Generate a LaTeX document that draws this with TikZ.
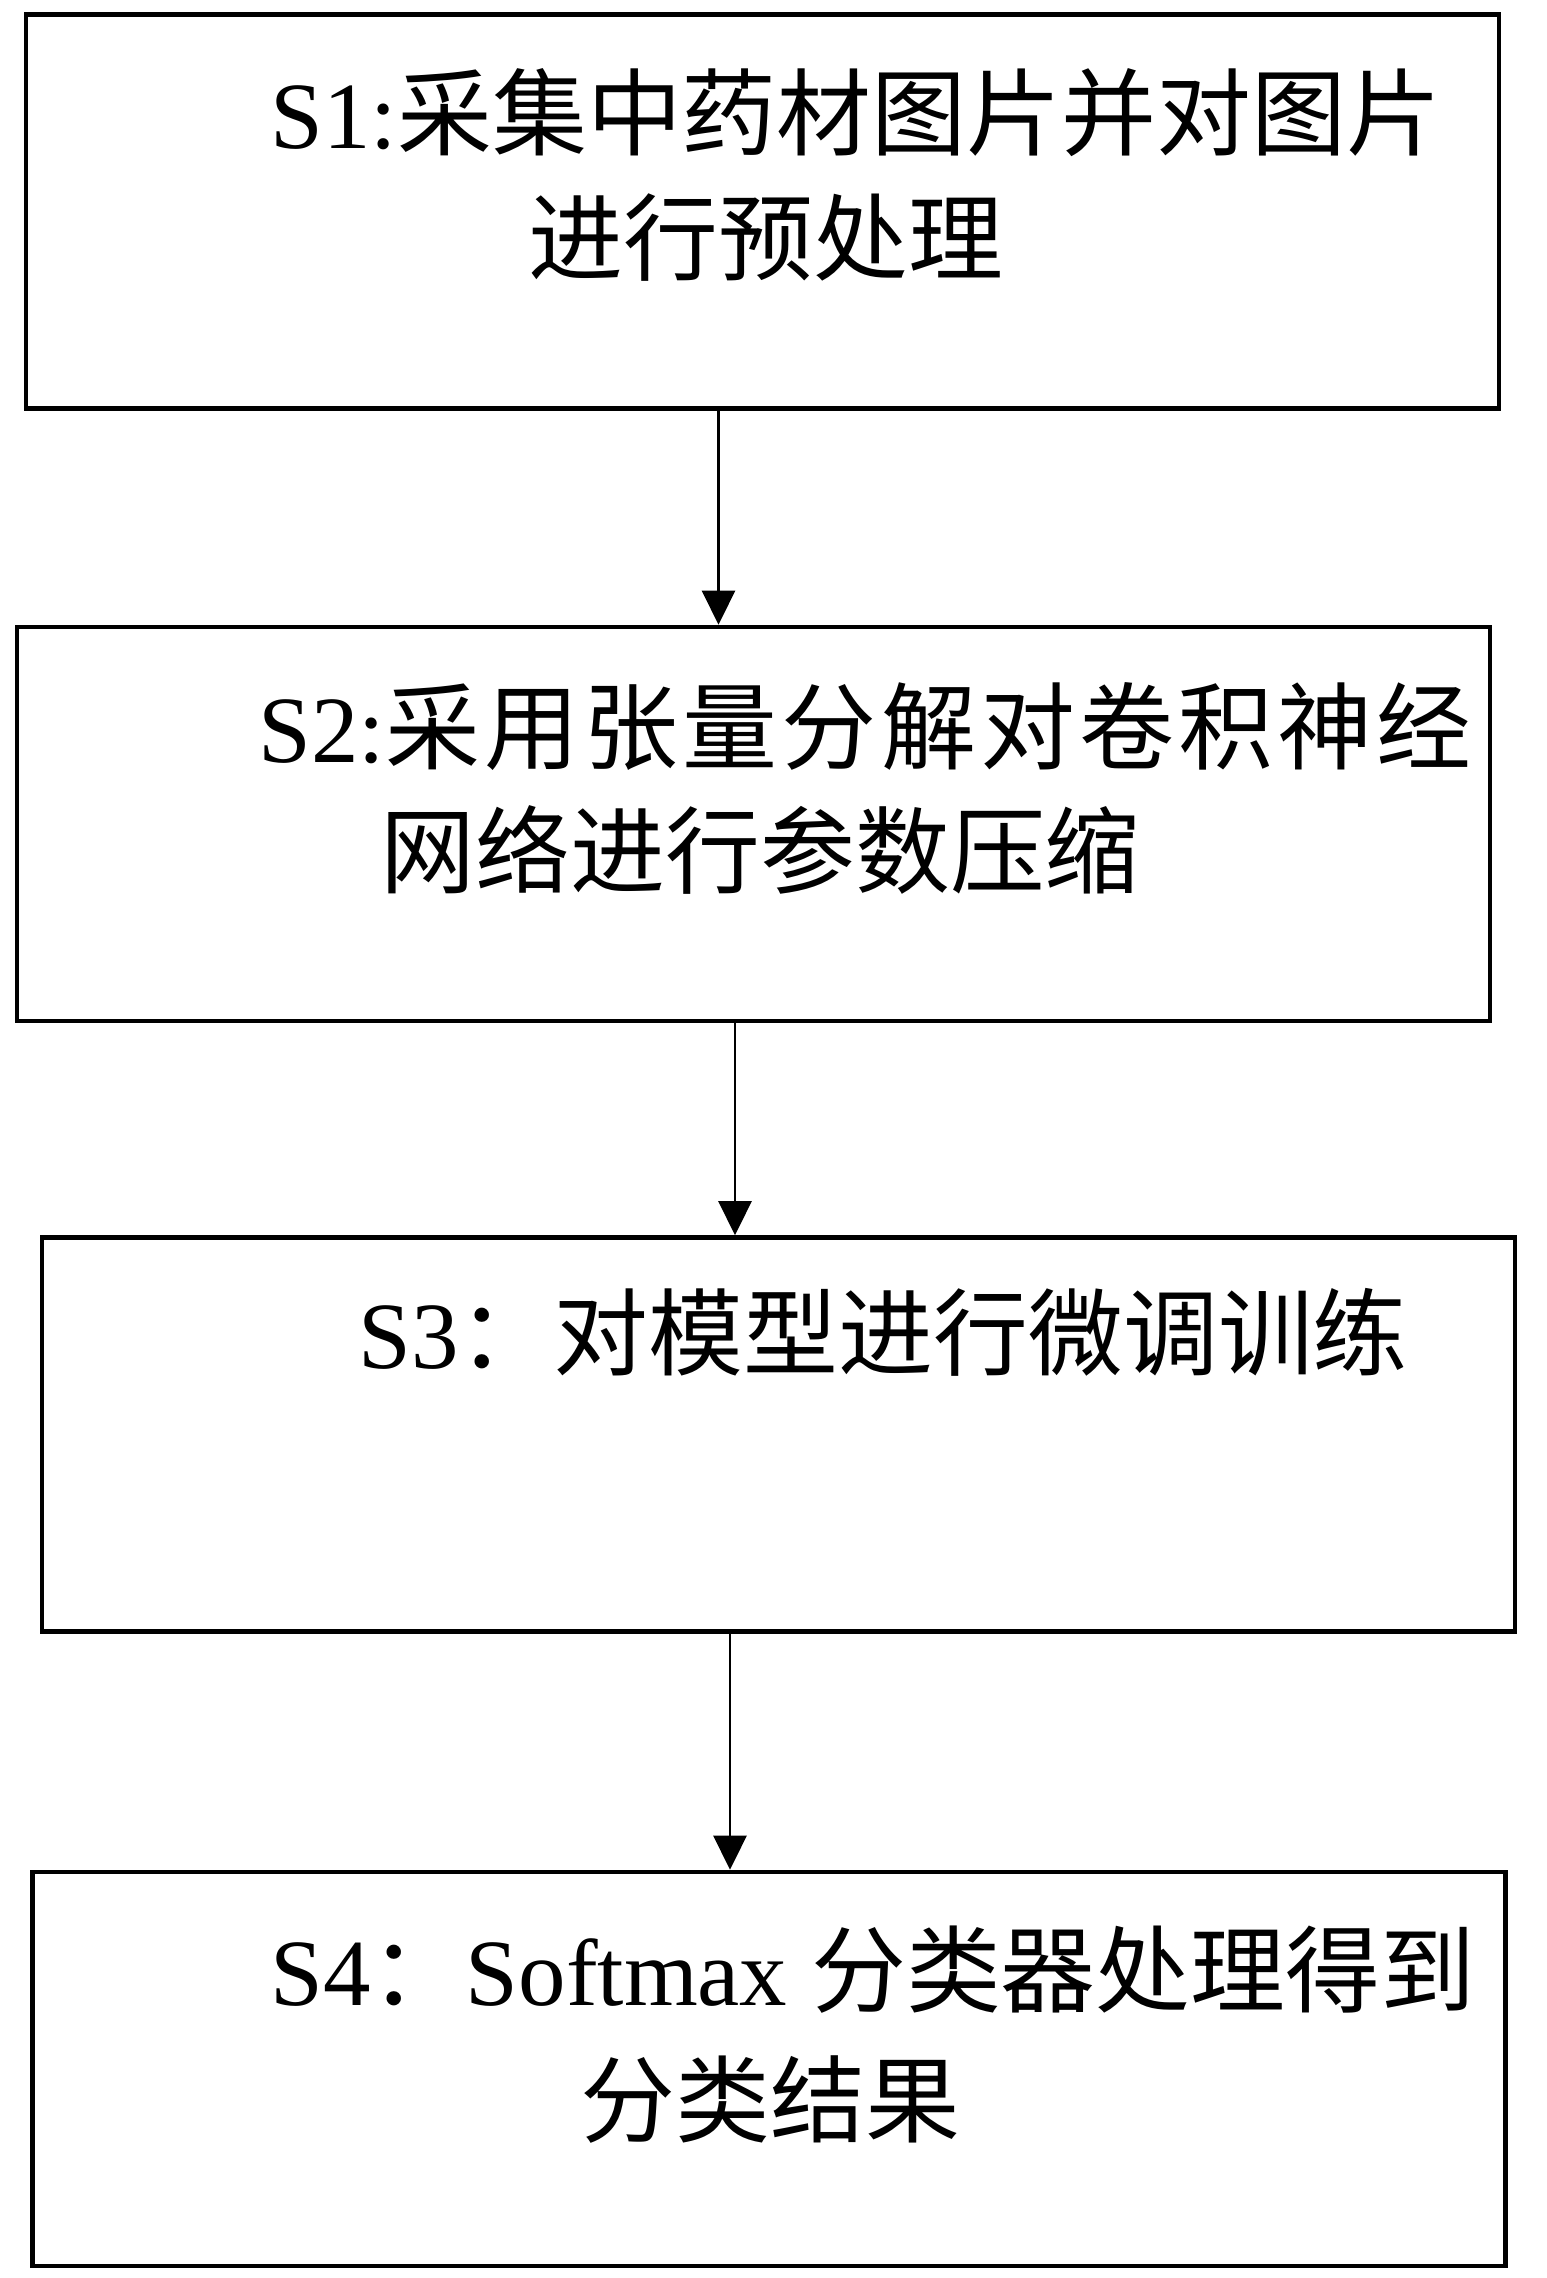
\documentclass[tikz,border=0pt]{standalone}
\usepackage{fontspec}
\setmainfont{Liberation Serif}
\newfontfamily\cjk{Noto Sans CJK SC}
\newfontfamily\cjkwide[LetterSpace=4.5]{Noto Sans CJK SC}
\usepackage{tikz}
\usetikzlibrary{arrows.meta}
\tikzstyle{stepbox}=[rectangle, draw=black, line width=1.3pt, minimum width=14.73cm, minimum height=3.94cm, inner sep=0pt]
\tikzstyle{steptext}=[anchor=west, inner sep=0pt, font=\fontsize{27}{32}\selectfont]
\tikzstyle{arrow}=[draw=black, line width=0.7pt, -{Triangle[length=3.4mm, width=3.3mm]}]

\begin{document}
\begin{tikzpicture}
		   \useasboundingbox (0, 0) rectangle (15.46, -22.78);
		   \begin{scope}
			   \node (s1) at (7.625, -2.115)[stepbox] {};
			   \node (s2) at (7.535, -8.24)[stepbox] {};
			   \node (s3) at (7.785, -14.345)[stepbox] {};
			   \node (s4) at (7.69, -20.69)[stepbox] {};
		   \end{scope}
		   \begin{scope}
			   \node (t1a) at (2.70, -1.13)[steptext] {S1:{\cjk 采集中药材图片并对图片}};
			   \node (t1b) at (5.28, -2.38)[steptext] {\cjk 进行预处理};
			   \node (t2a) at (2.58, -7.27)[steptext] {S2:{\cjkwide 采用张量分解对卷积神经}};
			   \node (t2b) at (3.80, -8.50)[steptext] {\cjk 网络进行参数压缩};
			   \node (t3a) at (3.58, -13.32)[steptext] {S3{\cjk ：对模型进行微调训练}};
			   \node (t4a) at (2.70, -19.70)[steptext] {S4{\cjk ：}Softmax {\cjk 分类器处理得到}};
			   \node (t4b) at (5.80, -21.00)[steptext] {\cjk 分类结果};
		   \end{scope}
		   \begin{scope}
			   \draw [arrow] ([xshift=-4.4mm]s1.south) -- ([xshift=-4.4mm]s1.south |- s2.north);
			   \draw [arrow] ([xshift=-1.85mm]s2.south) -- ([xshift=-1.85mm]s2.south |- s3.north);
			   \draw [arrow] ([xshift=-4.85mm]s3.south) -- ([xshift=-4.85mm]s3.south |- s4.north);
		   \end{scope}
	   \end{tikzpicture}
\end{document}
